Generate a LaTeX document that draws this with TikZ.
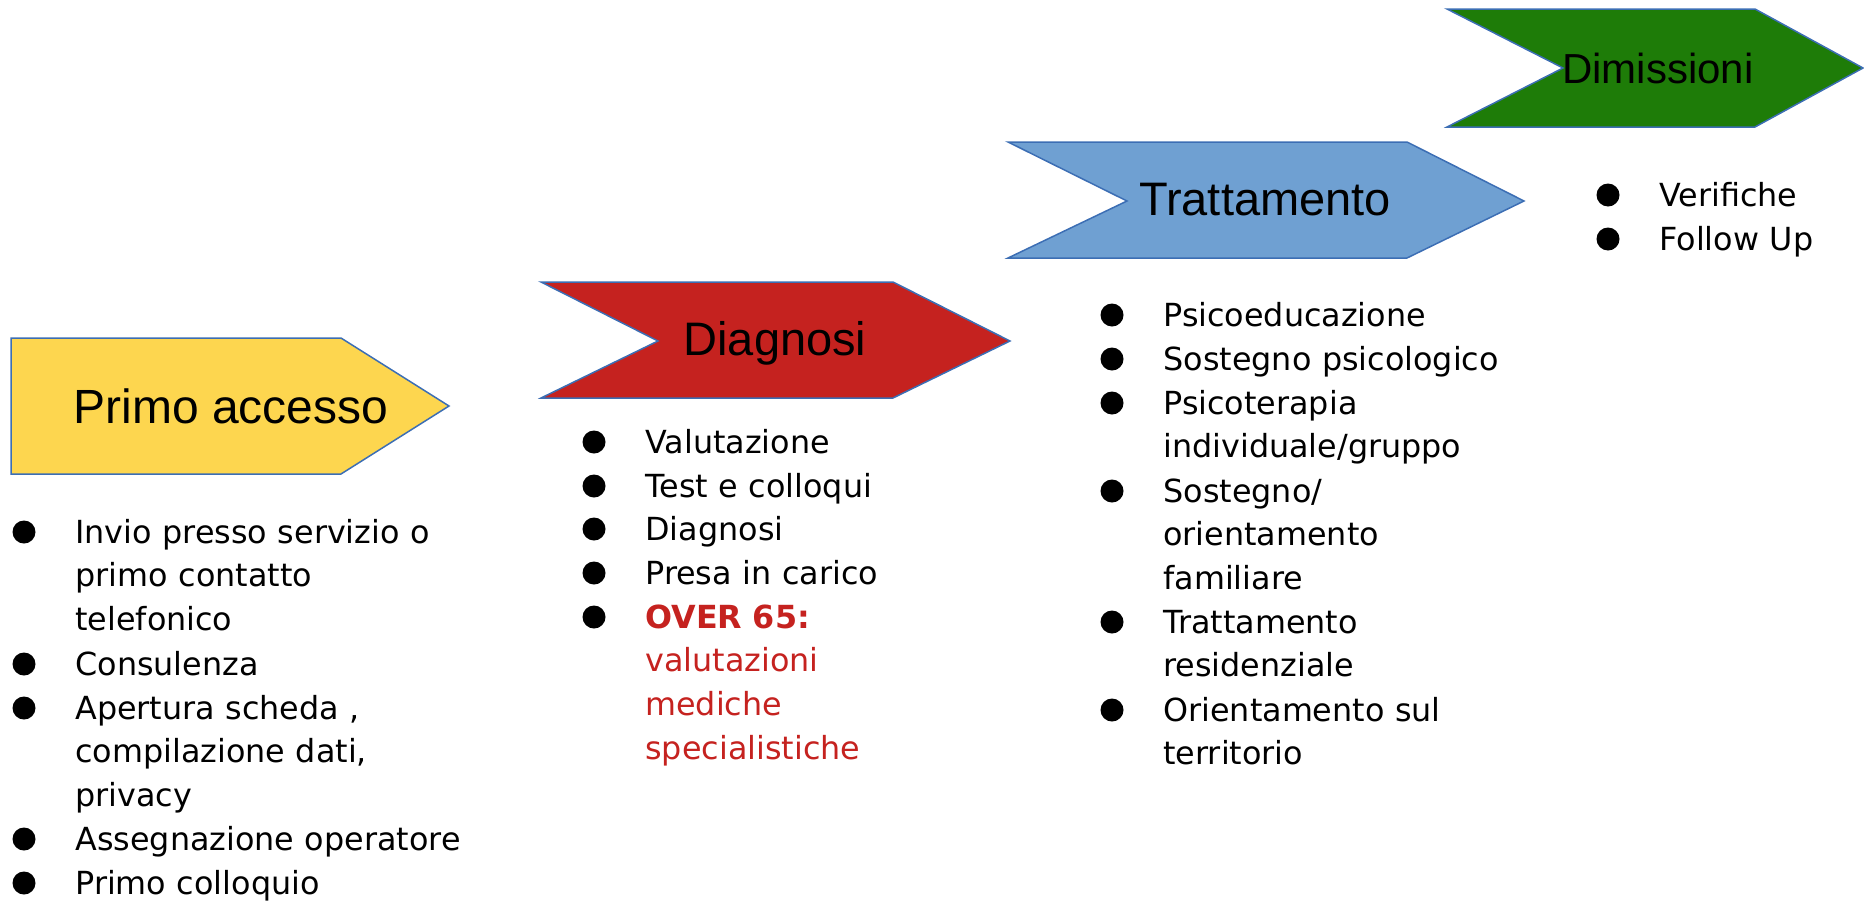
\documentclass[tikz,border=0pt]{standalone}
\usepackage{fontspec}
\setmainfont{DejaVu Sans}
\newfontfamily\fasefont{Liberation Sans}
\definecolor{giallo}{HTML}{FDD64F}
\definecolor{rosso}{HTML}{C5221F}
\definecolor{azzurro}{HTML}{6FA0D2}
\definecolor{verde}{HTML}{1E7C08}
\definecolor{bordo}{HTML}{3C6EB4}

\begin{document}
\begin{tikzpicture}[x=0.5pt, y=-0.5pt,
    freccia/.style = {draw=bordo, line width=0.75pt, line join=miter},
    fase/.style = {anchor=base, inner sep=0pt, font=\fasefont\fontsize{#1}{#1}\selectfont},
    voce/.style = {anchor=base west, inner sep=0pt, align=left, text width=300pt,
                   font=\fontsize{15.9pt}{21.9pt}\selectfont},
    pallino/.style = {circle, fill=black, inner sep=0pt, minimum size=11.5pt}]
    \useasboundingbox (0,0) rectangle (1864,900);

    % frecce
    \filldraw[freccia, fill=giallo] (11,338) -- (341,338) -- (449,406) -- (341,474) -- (11,474) -- cycle;
    \filldraw[freccia, fill=rosso] (541,282) -- (893,282) -- (1010,341) -- (893,398) -- (541,398) -- (658,341) -- cycle;
    \filldraw[freccia, fill=azzurro] (1008,142) -- (1407,142) -- (1524,201) -- (1407,258) -- (1008,258) -- (1127,201) -- cycle;
    \filldraw[freccia, fill=verde] (1447,9) -- (1755,9) -- (1863,68) -- (1755,127) -- (1447,127) -- (1563,68) -- cycle;

    \node[fase=24pt] (primo) at (231,423) {Primo accesso};
    \node[fase=23.5pt] (diagnosi) at (775,355) {Diagnosi};
    \node[fase=23.5pt] (tratt) at (1265,215) {Trattamento};
    \node[fase=21pt] (dimiss) at (1658,83) {Dimissioni};

    \node[voce] (p1) at (75,543) {Invio presso servizio o\\primo contatto\\telefonico};
    \node[voce] (p2) at (75,675) {Consulenza};
    \node[voce] (p3) at (75,719) {Apertura scheda ,\\compilazione dati,\\privacy};
    \node[voce] (p4) at (75,850) {Assegnazione operatore};
    \node[voce] (p5) at (75,894) {Primo colloquio};

    \node[voce] (d1) at (645,453) {Valutazione};
    \node[voce] (d2) at (645,497) {Test e colloqui};
    \node[voce] (d3) at (645,540) {Diagnosi};
    \node[voce] (d4) at (645,584) {Presa in carico};
    \node[voce, text=rosso] (d5) at (645,628) {\textbf{OVER 65:}\\valutazioni\\mediche\\specialistiche};

    \node[voce] (t1) at (1163,326) {Psicoeducazione};
    \node[voce] (t2) at (1163,370) {Sostegno psicologico};
    \node[voce] (t3) at (1163,414) {Psicoterapia\\individuale/gruppo};
    \node[voce] (t4) at (1163,502) {Sostegno/\\orientamento\\familiare};
    \node[voce] (t5) at (1163,633) {Trattamento\\residenziale};
    \node[voce] (t6) at (1163,721) {Orientamento sul\\territorio};

    \node[voce] (m1) at (1659,206) {Verifiche};
    \node[voce] (m2) at (1659,250) {Follow Up};

    \foreach \v in {p1,p2,p3,p4,p5,d1,d2,d3,d4,d5,t1,t2,t3,t4,t5,t6,m1,m2}
        \node[pallino] (\v-b) at ([shift={(-51,-11)}]\v.base west) {};
\end{tikzpicture}
\end{document}
